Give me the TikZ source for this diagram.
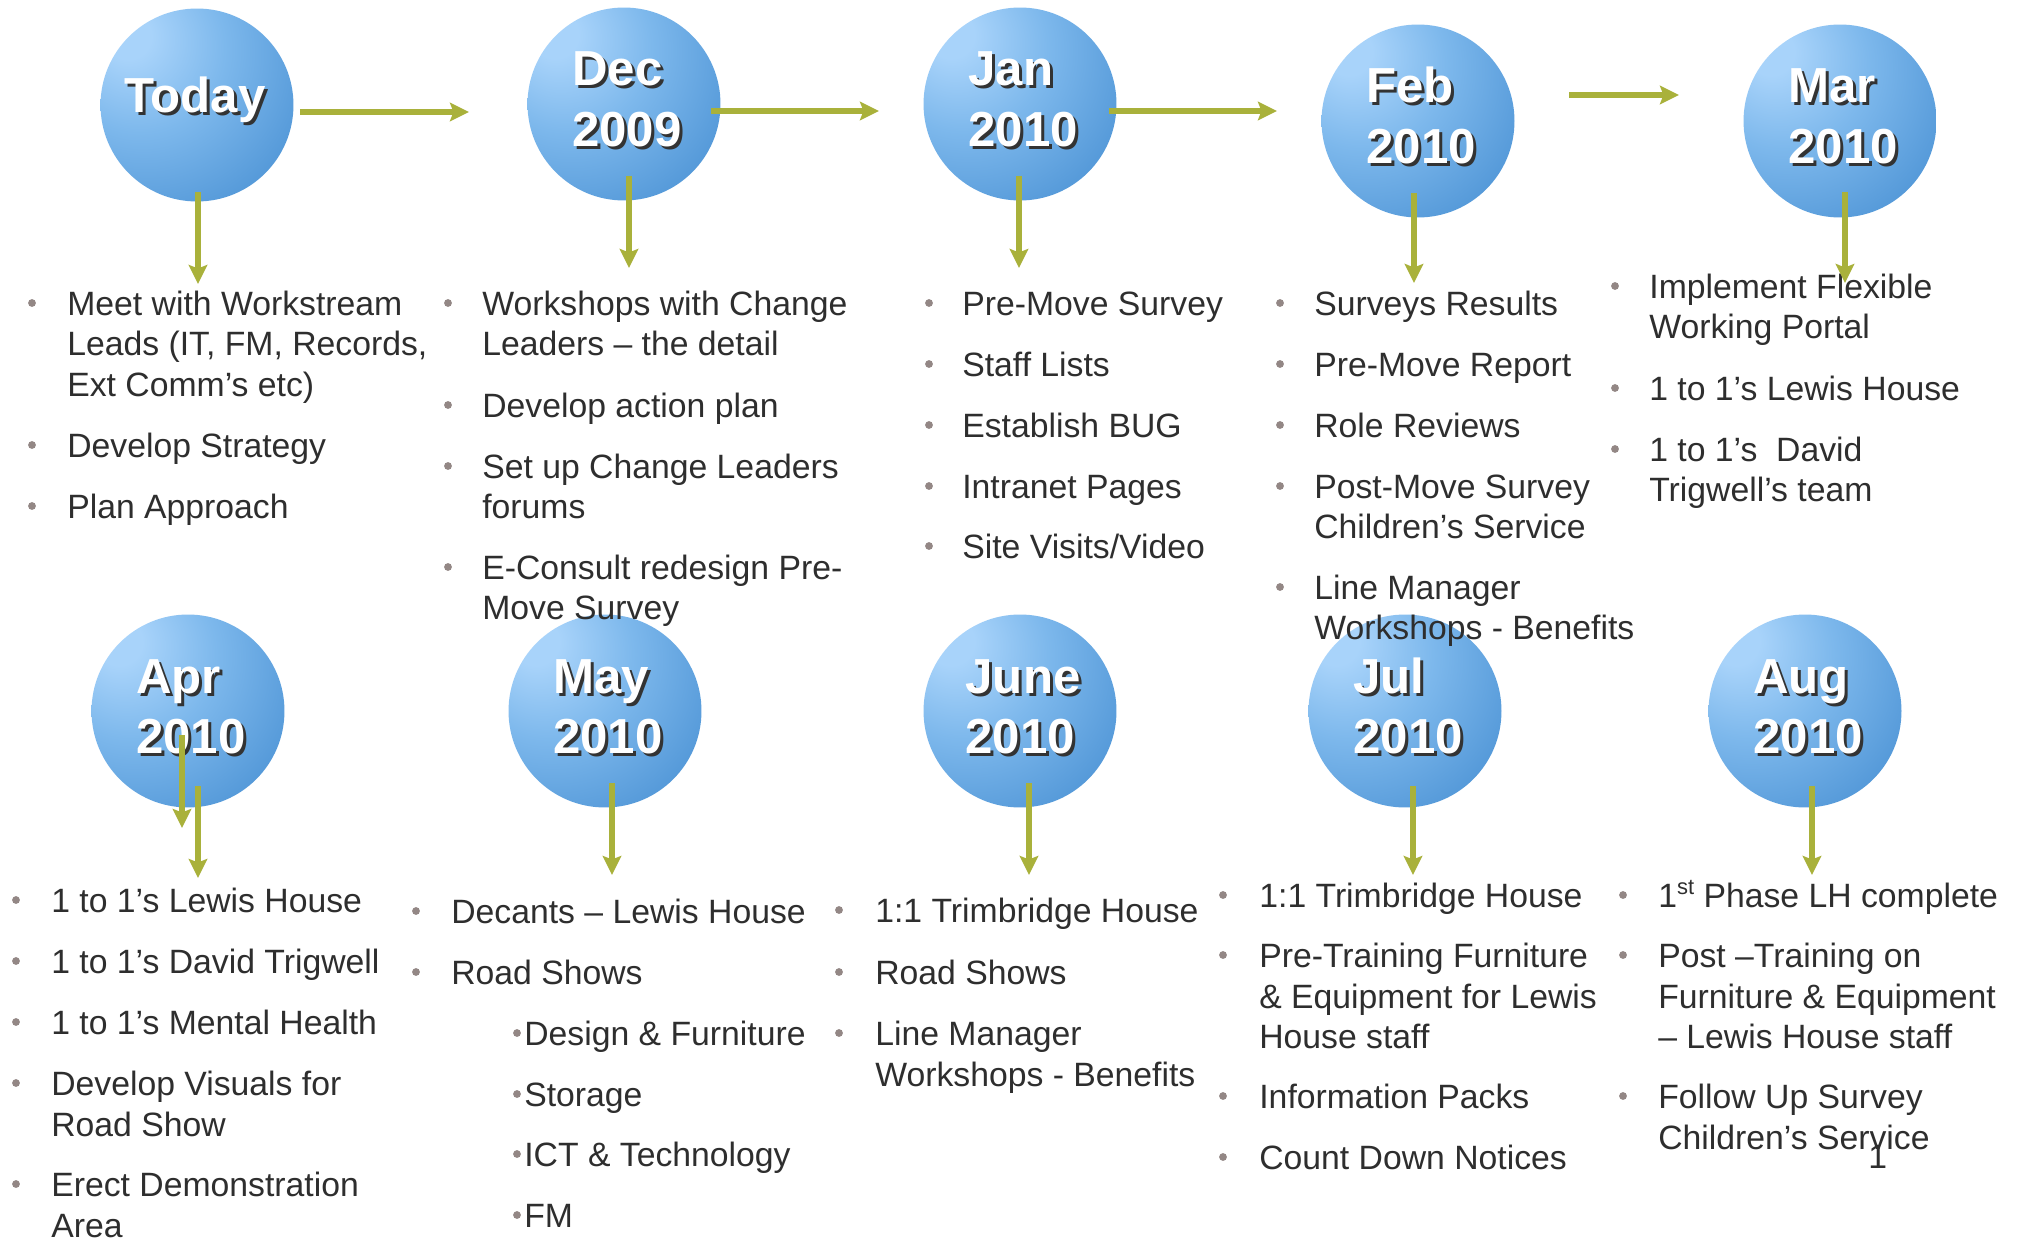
\documentclass[tikz,border=0pt]{standalone}
\usepackage{fontspec}
\setmainfont{Liberation Sans}
\usetikzlibrary{arrows.meta,calc}

\definecolor{bodytext}{HTML}{2E2E2E}
\definecolor{dotgrey}{HTML}{938785}
\definecolor{olive}{HTML}{A9B13B}
\definecolor{orbA}{HTML}{A8D3FA}
\definecolor{orbB}{HTML}{7DB8EC}
\definecolor{orbC}{HTML}{5398D8}
\definecolor{orbD}{HTML}{3E87C9}
\definecolor{orbshadow}{HTML}{333333}

% glossy sphere: highlight towards the upper left
\pgfdeclareradialshading{orbshade}{\pgfpoint{-19bp}{19bp}}{%
  color(0bp)=(orbA); color(6bp)=(orbA); color(22bp)=(orbB);
  color(42bp)=(orbC); color(62bp)=(orbD); color(100bp)=(orbD)}

\newcommand\itemfont{\fontsize{19.2pt}{23pt}\selectfont}
\newcommand\orbfont{\fontsize{28pt}{33pt}\selectfont\bfseries}
\newcommand\stk[1]{\vtop{\baselineskip=0.82cm\relax #1}}
\newcommand\lne[1]{\hbox{#1}}
\newcommand\orblines[2]{\vtop{\baselineskip=1.22cm\relax\hbox{#1}\hbox{#2}}}

\tikzset{
  orb/.style={circle, inner sep=0pt, minimum size=3.86cm, shade, shading=orbshade},
  orblabel/.style={anchor=base, inner sep=0pt, text=white, font=\orbfont},
  itm/.style={anchor=base west, inner sep=0pt, text=bodytext, font=\itemfont},
  flow/.style={draw=olive, line width=0.13cm,
    -{Stealth[length=0.38cm, width=0.37cm, inset=0.07cm]}},
}

% bullet item: name, bullet x, text x, baseline y, text
\newcommand\bitem[5]{%
  \fill[dotgrey] (#2,#4-12) circle[radius=0.078cm];
  \node[itm] (#1) at (#3,#4) {#5};}

% month sphere: name, centre x, centre y, first line, second line
\newcommand\orb[5]{%
  \node[orb] (#1) at (#2,#3) {};
  \node[orblabel, text=orbshadow] (#1-shade) at ($(#1.center)+(6,-15)$) {\orblines{#4}{#5}};
  \node[orblabel] (#1-label) at ($(#1.center)+(3,-18)$) {\orblines{#4}{#5}};}

\begin{document}
\begin{tikzpicture}[x=0.02cm, y=-0.02cm]
\fill[white] (0,0) rectangle (2017,1240);
\useasboundingbox (0,0) rectangle (2017,1240);

% ---- spheres ----
\node[orb] (today) at (197,105) {};
\node[orblabel, text=orbshadow] (today-shade) at ($(today.center)+(1,11)$) {Today};
\node[orblabel] (today-label) at ($(today.center)+(-2,8)$) {Today};
\orb{dec}{624}{104}{Dec}{2009}
\orb{jan}{1020}{104}{Jan}{2010}
\orb{feb}{1418}{121}{Feb}{2010}
\orb{mar}{1840}{121}{Mar}{2010}
\orb{apr}{188}{711}{Apr}{2010}
\orb{may}{605}{711}{May}{2010}
\orb{june}{1020}{711}{June}{2010}
\orb{jul}{1405}{711}{Jul}{2010}
\orb{aug}{1805}{711}{Aug}{2010}

% ---- top row lists ----
\bitem{t1a}{32}{67}{315}{\stk{\lne{Meet with Workstream}\lne{Leads (IT, FM, Records,}\lne{Ext Comm’s etc)}}}
\bitem{t1b}{32}{67}{457}{Develop Strategy}
\bitem{t1c}{32}{67}{518}{Plan Approach}

\bitem{t2a}{448}{482}{315}{\stk{\lne{Workshops with Change}\lne{Leaders – the detail}}}
\bitem{t2b}{448}{482}{417}{Develop action plan}
\bitem{t2c}{448}{482}{478}{\stk{\lne{Set up Change Leaders}\lne{forums}}}
\bitem{t2d}{448}{482}{579}{\stk{\lne{E-Consult redesign Pre-}\lne{Move Survey}}}

\bitem{t3a}{929}{962}{315}{Pre-Move Survey}
\bitem{t3b}{929}{962}{376}{Staff Lists}
\bitem{t3c}{929}{962}{437}{Establish BUG}
\bitem{t3d}{929}{962}{498}{Intranet Pages}
\bitem{t3e}{929}{962}{558}{Site Visits/Video}

\bitem{t4a}{1280}{1314}{315}{Surveys Results}
\bitem{t4b}{1280}{1314}{376}{Pre-Move Report}
\bitem{t4c}{1280}{1314}{437}{Role Reviews}
\bitem{t4d}{1280}{1314}{498}{\stk{\lne{Post-Move Survey}\lne{Children’s Service}}}
\bitem{t4e}{1280}{1314}{599}{\stk{\lne{Line Manager}\lne{Workshops - Benefits}}}

\bitem{t5a}{1615}{1649}{298}{\stk{\lne{Implement Flexible}\lne{Working Portal}}}
\bitem{t5b}{1615}{1649}{400}{1 to 1’s Lewis House}
\bitem{t5c}{1615}{1649}{461}{\stk{\lne{1 to 1’s\ \ David}\lne{Trigwell’s team}}}

% ---- bottom row lists ----
\bitem{b1a}{16}{51}{912}{1 to 1’s Lewis House}
\bitem{b1b}{16}{51}{973}{1 to 1’s David Trigwell}
\bitem{b1c}{16}{51}{1034}{1 to 1’s Mental Health}
\bitem{b1d}{16}{51}{1095}{\stk{\lne{Develop Visuals for}\lne{Road Show}}}
\bitem{b1e}{16}{51}{1196}{\stk{\lne{Erect Demonstration}\lne{Area}}}

\bitem{b2a}{416}{451}{923}{Decants – Lewis House}
\bitem{b2b}{416}{451}{984}{Road Shows}
\bitem{b2c}{517}{524}{1045}{Design \& Furniture}
\bitem{b2d}{517}{524}{1106}{Storage}
\bitem{b2e}{517}{524}{1166}{ICT \& Technology}
\bitem{b2f}{517}{524}{1227}{FM}

\bitem{b3a}{839}{875}{922}{1:1 Trimbridge House}
\bitem{b3b}{839}{875}{984}{Road Shows}
\bitem{b3c}{839}{875}{1045}{\stk{\lne{Line Manager}\lne{Workshops - Benefits}}}

\bitem{b4a}{1223}{1259}{907}{1:1 Trimbridge House}
\bitem{b4b}{1223}{1259}{967}{\stk{\lne{Pre-Training Furniture}\lne{\& Equipment for Lewis}\lne{House staff}}}
\bitem{b4c}{1223}{1259}{1108}{Information Packs}
\bitem{b4d}{1223}{1259}{1169}{Count Down Notices}

\bitem{b5a}{1623}{1658}{907}{1\raisebox{0.36em}{\fontsize{12.5pt}{12.5pt}\selectfont st} Phase LH complete}
\bitem{b5b}{1623}{1658}{967}{\stk{\lne{Post –Training on}\lne{Furniture \& Equipment}\lne{– Lewis House staff}}}
\bitem{b5c}{1623}{1658}{1108}{\stk{\lne{Follow Up Survey}\lne{Children’s Service}}}

\node[itm] (pageno) at (1868,1168) {1};

% ---- connectors ----
\coordinate (dec-in) at ($(dec.center)+(-155,8)$);
\coordinate (jan-in) at ($(jan.center)+(-141,7)$);
\coordinate (feb-in) at ($(feb.center)+(-141,-10)$);
\coordinate (mar-in) at ($(mar.center)+(-161,-26)$);
\draw[flow] ($(today.center)+(103,7)$) -- (dec-in);
\draw[flow] ($(dec.center)+(87,7)$) -- (jan-in);
\draw[flow] ($(jan.center)+(89,7)$) -- (feb-in);
\draw[flow] ($(feb.center)+(151,-26)$) -- (mar-in);

\coordinate (today-out) at ($(today.center)+(1,179)$);
\coordinate (dec-out) at ($(dec.center)+(5,164)$);
\coordinate (jan-out) at ($(jan.center)+(-1,164)$);
\coordinate (feb-out) at ($(feb.center)+(-4,162)$);
\coordinate (mar-out) at ($(mar.center)+(5,162)$);
\coordinate (apr-outA) at ($(apr.center)+(-6,117)$);
\coordinate (apr-outB) at ($(apr.center)+(10,167)$);
\coordinate (may-out) at ($(may.center)+(7,164)$);
\coordinate (june-out) at ($(june.center)+(9,164)$);
\coordinate (jul-out) at ($(jul.center)+(8,164)$);
\coordinate (aug-out) at ($(aug.center)+(7,164)$);

\draw[flow] ($(today.center)+(1,87)$) -- (today-out);
\draw[flow] ($(dec.center)+(5,72)$) -- (dec-out);
\draw[flow] ($(jan.center)+(-1,72)$) -- (jan-out);
\draw[flow] ($(feb.center)+(-4,72)$) -- (feb-out);
\draw[flow] ($(mar.center)+(5,71)$) -- (mar-out);
\draw[flow] ($(apr.center)+(-6,24)$) -- (apr-outA);
\draw[flow] ($(apr.center)+(10,75)$) -- (apr-outB);
\draw[flow] ($(may.center)+(7,72)$) -- (may-out);
\draw[flow] ($(june.center)+(9,72)$) -- (june-out);
\draw[flow] ($(jul.center)+(8,75)$) -- (jul-out);
\draw[flow] ($(aug.center)+(7,75)$) -- (aug-out);
\end{tikzpicture}
\end{document}
